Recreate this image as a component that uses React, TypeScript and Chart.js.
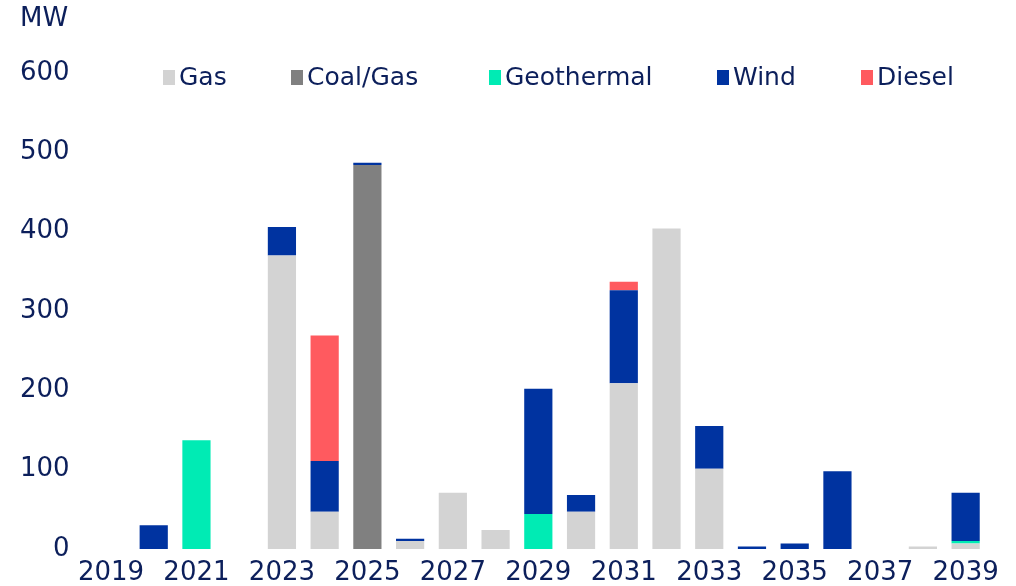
import React, { useEffect, useRef } from "react";
import { Chart, registerables } from "chart.js";

Chart.register(...registerables);

const years = [
  "2019", "2020", "2021", "2022", "2023", "2024", "2025", "2026", "2027", "2028",
  "2029", "2030", "2031", "2032", "2033", "2034", "2035", "2036", "2037", "2038", "2039",
];
const gas = [0, 0, 0, 0, 370, 47, 0, 10, 71, 24, 0, 47, 209, 404, 101, 0, 0, 0, 0, 3, 7];
const coalGas = [0, 0, 0, 0, 0, 0, 484, 0, 0, 0, 0, 0, 0, 0, 0, 0, 0, 0, 0, 0, 0];
const geothermal = [0, 0, 137, 0, 0, 0, 0, 0, 0, 0, 44, 0, 0, 0, 0, 0, 0, 0, 0, 0, 3];
const wind = [0, 30, 0, 0, 36, 64, 3, 3, 0, 0, 158, 21, 117, 0, 54, 3, 7, 98, 0, 0, 61];
const diesel = [0, 0, 0, 0, 0, 158, 0, 0, 0, 0, 0, 0, 11, 0, 0, 0, 0, 0, 0, 0, 0];
const yTicks = [0, 100, 200, 300, 400, 500, 600];
const unitLabel = "MW";

const TEXT = "#0c1f5b";
const FONT = "'DejaVu Sans', sans-serif";

const legendPlugin = {
  id: "customLegend",
  afterDraw(chart: any) {
    const ctx = chart.ctx;
    ctx.save();
    ctx.fillStyle = TEXT;
    ctx.font = `26px ${FONT}`;
    ctx.textBaseline = "middle";
    ctx.textAlign = "left";
    ctx.fillText(unitLabel, 20, 19);
    ctx.font = `25px ${FONT}`;
    const xs = [163, 291, 489, 717, 861];
    chart.data.datasets.forEach((ds: any, i: number) => {
      const x = xs[i];
      ctx.fillStyle = ds.backgroundColor;
      ctx.fillRect(x, 70, 12, 15);
      ctx.fillStyle = TEXT;
      ctx.fillText(ds.label, x + 16, 78);
    });
    ctx.restore();
  },
};

export default function App() {
  const ref = useRef<HTMLCanvasElement>(null);
  useEffect(() => {
    if (!ref.current) return;
    const chart = new Chart(ref.current, {
      type: "bar",
      data: {
        labels: years,
        datasets: [
          { label: "Gas", data: gas, backgroundColor: "#d3d3d3" },
          { label: "Coal/Gas", data: coalGas, backgroundColor: "#808080" },
          { label: "Geothermal", data: geothermal, backgroundColor: "#00ebb4" },
          { label: "Wind", data: wind, backgroundColor: "#0033a0" },
          { label: "Diesel", data: diesel, backgroundColor: "#ff5a5f" },
        ],
      },
      options: {
        animation: false,
        responsive: true,
        maintainAspectRatio: false,
        layout: { padding: { top: 73, right: 29, bottom: 0, left: 0 } },
        datasets: { bar: { barPercentage: 0.66, categoryPercentage: 1 } } as any,
        plugins: {
          legend: { display: false },
          tooltip: { enabled: false },
          title: { display: false },
        },
        scales: {
          x: {
            stacked: true,
            grid: { display: false, drawTicks: false },
            border: { display: false },
            afterFit: (axis: any) => {
              axis.height = 37;
            },
            ticks: {
              autoSkip: false,
              maxRotation: 0,
              padding: 11,
              color: TEXT,
              font: { family: FONT, size: 26, lineHeight: 1 },
              callback: (_v: any, i: number) => (i % 2 === 0 ? years[i] : ""),
            },
          },
          y: {
            stacked: true,
            min: 0,
            max: 600,
            afterBuildTicks: (axis: any) => {
              axis.ticks = yTicks.map((v) => ({ value: v }));
            },
            grid: { display: false, drawTicks: false },
            border: { display: false },
            ticks: {
              padding: 20,
              color: TEXT,
              font: { family: FONT, size: 26 },
            },
          },
        },
      },
      plugins: [legendPlugin],
    });
    return () => chart.destroy();
  }, []);
  return (
    <div style={{ position: "absolute", left: 0, top: 0, width: 1016, height: 586, background: "#fff" }}>
      <canvas ref={ref} />
    </div>
  );
}
